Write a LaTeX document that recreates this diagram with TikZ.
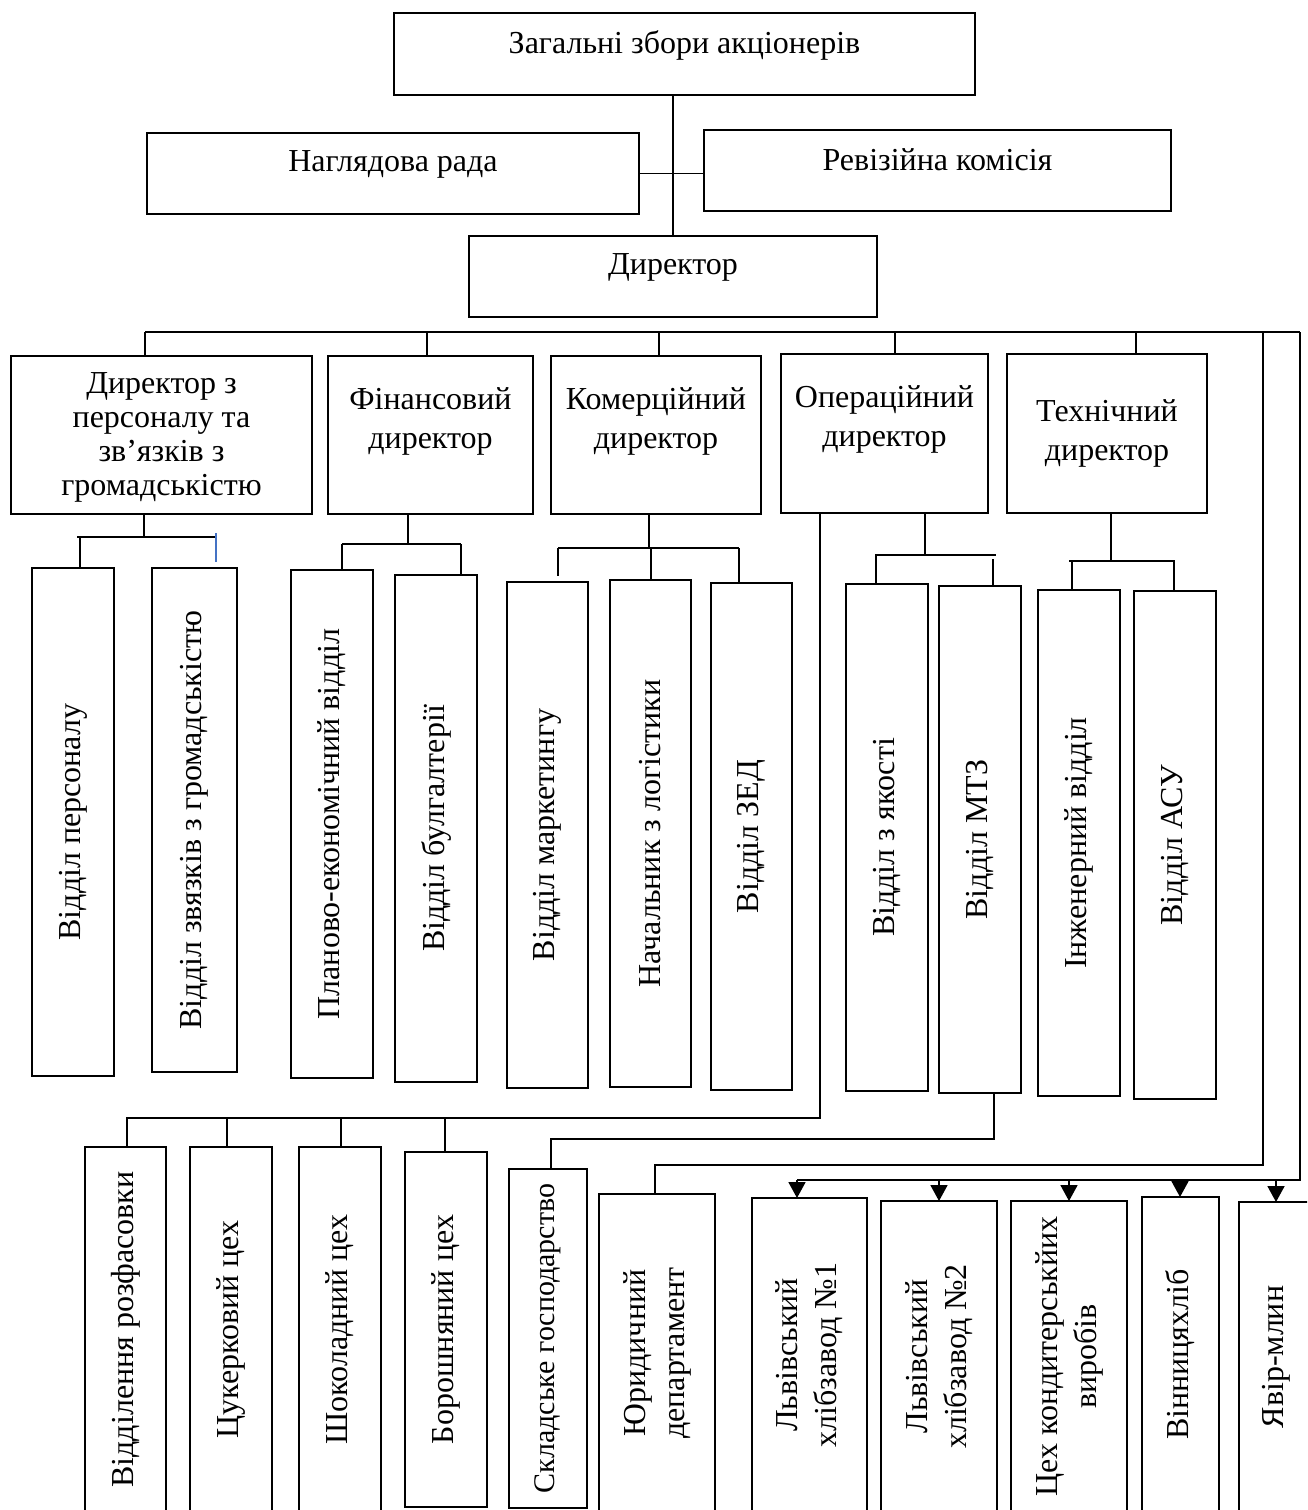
\documentclass[tikz,border=0pt]{standalone}
\usepackage{fontspec}
\setmainfont{Liberation Serif}
\usetikzlibrary{arrows.meta,calc}

\tikzset{
  unit/.style={draw, line width=1.8pt, inner sep=0pt, outer sep=0pt},
  caption/.style={font=\fontsize{32}{39}\selectfont, align=center, inner sep=0pt},
  link/.style={line width=1.8pt},
  feed/.style={link, -{Triangle[length=16pt,width=17pt]}},
}

% \orgbox{name}{left}{top}{right}{bottom}{text centre y}{text}
\newcommand\orgbox[7]{%
  \node[unit, minimum width={#4pt-#2pt}, minimum height={#5pt-#3pt}]
    (#1) at ({(#2+#4)/2},{(#3+#5)/2}) {};
  \node[caption] (#1-t) at ({(#2+#4)/2},#6) {#7};
}
% \tallbox{name}{left}{top}{right}{bottom}{text}: text reads upwards
\newcommand\tallbox[6]{%
  \node[unit, minimum width={#4pt-#2pt}, minimum height={#5pt-#3pt}]
    (#1) at ({(#2+#4)/2},{(#3+#5)/2}) {};
  \node[caption, rotate=90] (#1-t) at (#1.center) {#6};
}

\begin{document}
\begin{tikzpicture}[x=1pt, y=-1pt]
\useasboundingbox (0,0) rectangle (1307,1510);
\clip (0,0) rectangle (1307,1510);

% governing bodies
\orgbox{gm}{394}{13}{975}{95}{45}{Загальні збори акціонерів}
\orgbox{board}{147}{133}{639}{214}{164}{Наглядова рада}
\orgbox{audit}{704}{130}{1171}{211}{160}{Ревізійна комісія}
\orgbox{dir}{469}{236}{877}{317}{267}{Директор}

\draw[link] (dir.north |- gm.south) -- (dir.north);
\draw[link] (board.east) -- (board.east -| audit.west);

% deputy directors
\orgbox{hr}{11}{356}{312}{514}{437}{Директор з\\[-5pt]персоналу та\\[-5pt]зв’язків з\\[-5pt]громадськістю}
\orgbox{fin}{328}{356}{533}{514}{421}{Фінансовий\\директор}
\orgbox{com}{551}{356}{761}{514}{421}{Комерційний\\директор}
\orgbox{ops}{781}{354}{988}{513}{419}{Операційний\\директор}
\orgbox{tech}{1007}{354}{1207}{513}{433}{Технічний\\директор}

% departments
\tallbox{hr1}{32}{568}{114}{1076}{Відділ персоналу}
\tallbox{hr2}{152}{568}{237}{1072}{Відділ звязків з громадськістю}
\tallbox{fin1}{291}{570}{373}{1078}{Планово-економічний відділ}
\tallbox{fin2}{395}{575}{477}{1082}{Відділ булгалтерії}
\tallbox{com1}{507}{582}{588}{1088}{Відділ маркетингу}
\tallbox{com2}{610}{580}{691}{1087}{Начальник з логістики}
\tallbox{com3}{711}{583}{792}{1090}{Відділ ЗЕД}
\tallbox{ops1}{846}{584}{928}{1091}{Відділ з якості}
\tallbox{ops2}{939}{586}{1021}{1093}{Відділ МТЗ}
\tallbox{tech1}{1038}{590}{1120}{1096}{Інженерний відділ}
\tallbox{tech2}{1134}{591}{1216}{1099}{Відділ АСУ}

% production units and subsidiaries
\tallbox{p1}{85}{1147}{166}{1512}{Відділення розфасовки}
\tallbox{p2}{190}{1147}{272}{1512}{Цукерковий цех}
\tallbox{p3}{299}{1147}{381}{1512}{Шоколадний цех}
\tallbox{p4}{405}{1152}{487}{1507}{Борошняний цех}
\tallbox{p5}{509}{1169}{587}{1508}{\fontsize{30}{36}\selectfont Складське господарство}
\tallbox{legal}{599}{1194}{715}{1512}{Юридичний\\департамент}
\tallbox{f1}{752}{1198}{867}{1512}{Львівський\\хлібзавод №1}
\tallbox{f2}{881}{1201}{997}{1512}{Львівський\\хлібзавод №2}
\tallbox{f3}{1011}{1201}{1127}{1512}{Цех кондитерськйих\\виробів}
\tallbox{f4}{1142}{1197}{1219}{1512}{Вінницяхліб}
\tallbox{f5}{1239}{1202}{1314}{1512}{Явір-млин}

% main bus under the director
\coordinate (busW) at (145,332);
\coordinate (busE) at (1300,332);
\draw[link] (busW) -- (busE);
\foreach \x/\n in {145/hr, 427/fin, 659/com, 895/ops, 1136/tech}
  \draw[link] (\x,332) -- (\x,332 |- \n.north);

% personnel and public relations
\coordinate (hrJ) at (144,537);
\draw[link] (hrJ |- hr.south) -- (hrJ);
\draw[link] (77,537) -- (216,537);
\draw[link] (80,537) -- (80,537 |- hr1.north);
\draw[line width=1.8pt, color={rgb,255:red,68;green,114;blue,196}] (216,533) -- (216,562);

% finance
\coordinate (finJ) at (408,544);
\draw[link] (finJ |- fin.south) -- (finJ);
\draw[link] (342,544) -- (461,544);
\draw[link] (342,544) -- (342,544 |- fin1.north);
\draw[link] (461,544) -- (461,544 |- fin2.north);

% commerce
\coordinate (comJ) at (649,548);
\draw[link] (comJ |- com.south) -- (comJ);
\draw[link] (558,548) -- (739,548);
\draw[link] (558,548) -- (558,576);
\draw[link] (651,548) -- (651,548 |- com2.north);
\draw[link] (739,548) -- (739,548 |- com3.north);

% operations
\coordinate (opsJ) at (925,555);
\draw[link] (opsJ |- ops.south) -- (opsJ);
\draw[link] (875,555) -- (996,555);
\draw[link] (876,555) -- (876,555 |- ops1.north);
\draw[link] (993,559) -- (993,559 |- ops2.north);

% technical
\coordinate (techJ) at (1111,561);
\draw[link] (techJ |- tech.south) -- (techJ);
\draw[link] (1069,561) -- (1175,561);
\draw[link] (1072,561) -- (1072,561 |- tech1.north);
\draw[link] (1174,561) -- (1174,561 |- tech2.north);

% operations director to the workshops
\coordinate (prodE) at (820,1118);
\coordinate (prodW) at (127,1118);
\draw[link] (prodE |- ops.south) -- (prodE) -- (prodW) -- (prodW |- p1.north);
\foreach \x/\n in {227/p2, 341/p3, 445/p4}
  \draw[link] (\x,1118) -- (\x,1118 |- \n.north);

% supply department to the warehouse
\coordinate (whE) at (994,1139);
\coordinate (whW) at (551,1139);
\draw[link] (whE |- ops2.south) -- (whE) -- (whW) -- (whW |- p5.north);

% legal department
\coordinate (lgE) at (1263,1165);
\coordinate (lgW) at (655,1165);
\draw[link] (1263,332) -- (lgE) -- (lgW) -- (lgW |- legal.north);

% subsidiaries
\coordinate (sbE) at (1300,1180);
\coordinate (sbW) at (797,1180);
\draw[link] (busE) -- (sbE) -- (sbW);
\foreach \x/\n in {797/f1, 939/f2, 1069/f3, 1180/f4, 1276/f5}
  \draw[feed] (\x,1180) -- (\x,1180 |- \n.north);
\end{tikzpicture}
\end{document}
